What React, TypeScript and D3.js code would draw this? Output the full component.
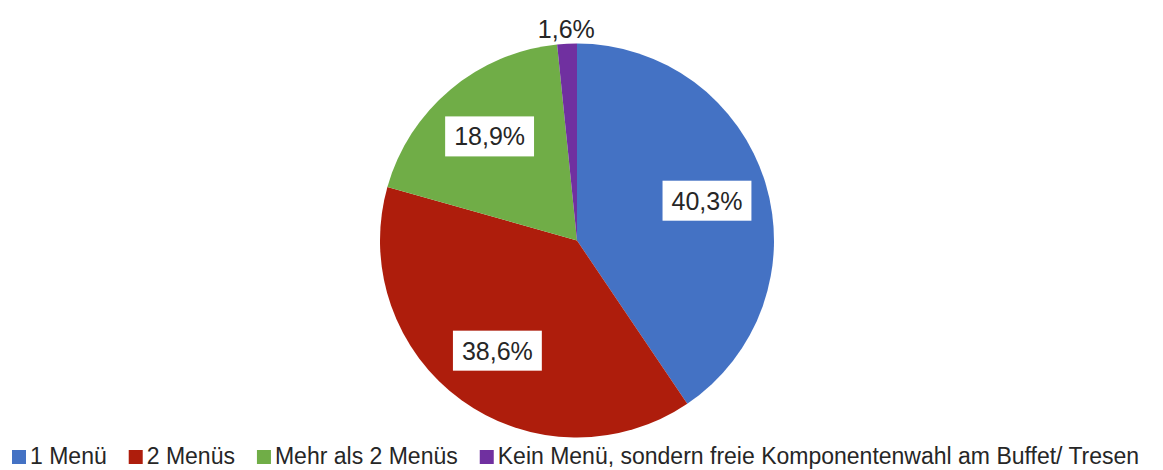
import React, { useRef, useEffect } from 'react'
import * as d3 from 'd3'

const categories = ['1 Menü', '2 Menüs', 'Mehr als 2 Menüs', 'Kein Menü, sondern freie Komponentenwahl am Buffet/ Tresen']
const shares = [40.3, 38.6, 18.9, 1.6]
const colors = ['#4472C4', '#AE1D0C', '#70AD47', '#7030A0']

const App = () => {
  const chart = useRef<SVGSVGElement>(null)
  const dims = { width: 1163, height: 470 }

  useEffect(() => {
    const svg = d3.select(chart.current)
    svg.selectAll('*').remove()
    svg.attr('width', dims.width).attr('height', dims.height)
       .style('font-family', 'Liberation Sans, Arial, sans-serif')

    const r = 197
    const g = svg.append('g').attr('transform', 'translate(577,240.5)')

    const pie = d3.pie<number>().value(d => d).sort(null)
    const arcs = pie(shares)
    const arc = d3.arc<d3.PieArcDatum<number>>().innerRadius(0).outerRadius(r)
    const labelArc = d3.arc<d3.PieArcDatum<number>>().innerRadius(r * 0.69).outerRadius(r * 0.69)
    const outerArc = d3.arc<d3.PieArcDatum<number>>().innerRadius(r + 15).outerRadius(r + 15)

    g.selectAll('path.slice')
      .data(arcs)
      .join('path')
      .attr('class', 'slice')
      .attr('d', arc)
      .attr('fill', (d, i) => colors[i])

    const fmt = (v: number) => v.toFixed(1).replace('.', ',') + '%'

    arcs.forEach((d, i) => {
      const inside = d.data > 5
      const [x, y] = inside ? labelArc.centroid(d) : outerArc.centroid(d)
      const lg = g.append('g').attr('transform', `translate(${x},${y})`)
      const rect = lg.append('rect').attr('fill', inside ? '#fff' : 'none')
      const t = lg.append('text')
        .attr('text-anchor', 'middle')
        .attr('dominant-baseline', 'central')
        .attr('font-size', 25)
        .attr('fill', '#262626')
        .text(fmt(d.data))
      const b = (t.node() as SVGTextElement).getBBox()
      rect.attr('x', b.x - 9).attr('y', -20).attr('width', b.width + 18).attr('height', 40)
    })

    // legend
    const legend = svg.append('g').attr('transform', 'translate(12,456)')
    let lx = 0
    categories.forEach((c, i) => {
      const item = legend.append('g').attr('transform', `translate(${lx},0)`)
      item.append('rect').attr('x', 0).attr('y', -6).attr('width', 14).attr('height', 14).attr('fill', colors[i])
      const t = item.append('text')
        .attr('x', 18)
        .attr('dominant-baseline', 'central')
        .attr('font-size', 23)
        .attr('fill', '#262626')
        .text(c)
      const w = (t.node() as SVGTextElement).getComputedTextLength()
      lx += 18 + w + 22
    })
  })

  return (
    <div style={{ position: 'absolute', left: 0, top: 0 }}>
      <svg ref={chart}></svg>
    </div>
  )
}

export default App
